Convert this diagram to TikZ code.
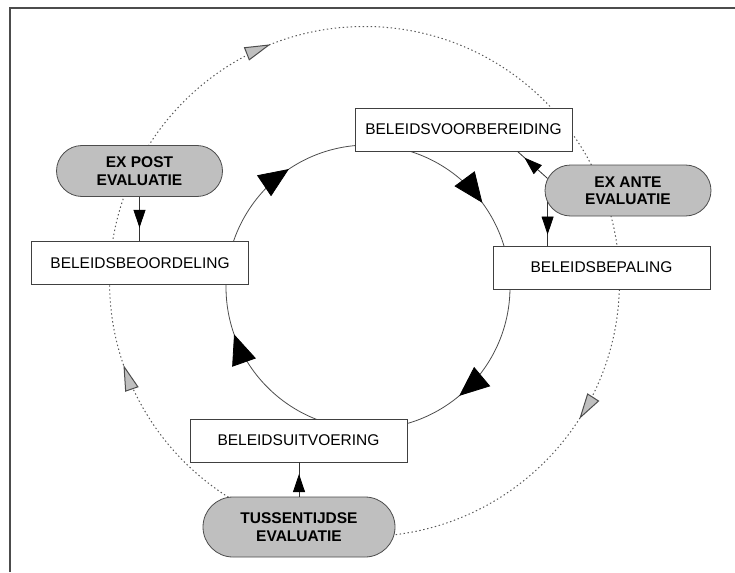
\documentclass[tikz,border=0pt]{standalone}
\usepackage{fontspec}
\setmainfont{Liberation Sans}
\usetikzlibrary{arrows.meta,decorations.markings,calc,shapes.misc}

\begin{document}
\begin{tikzpicture}[x=1pt, y=-1pt,
stage/.style = {draw=black!75, fill=white, line width=0.8pt, minimum width=217pt, minimum height=43pt, inner sep=0pt, font=\fontsize{15.5}{17.5}\selectfont},
eval/.style = {draw=black!70, fill=black!25, line width=0.8pt, rounded rectangle, minimum width=166pt, minimum height=51pt, inner sep=0pt, align=center, font=\bfseries\fontsize{15.5}{17.5}\selectfont},
ring/.style = {black!70, line width=0.8pt, postaction={decorate}, decoration={markings,
  mark=at position 0.139 with {\arrow{Triangle[length=30pt,width=25pt,color=black]}},
  mark=at position 0.446 with {\arrow{Triangle[length=30pt,width=25pt,color=black]}},
  mark=at position 0.656 with {\arrow{Triangle[length=30pt,width=25pt,color=black]}},
  mark=at position 0.899 with {\arrow{Triangle[length=30pt,width=25pt,color=black]}}}},
feedback/.style = {black!65, line width=1pt, dash pattern=on 1.4pt off 2.6pt, postaction={decorate}, decoration={markings,
  mark=at position 0.0906 with {\arrow{Triangle[length=26pt,width=14pt,color=black!70,fill=black!25]}},
  mark=at position 0.447 with {\arrow{Triangle[length=26pt,width=14pt,color=black!70,fill=black!25]}},
  mark=at position 0.690 with {\arrow{Triangle[length=26pt,width=14pt,color=black!70,fill=black!25]}}}},
link/.style = {black!80, line width=0.8pt, postaction={decorate}, decoration={markings,
  mark=at position #1 with {\arrow{Triangle[length=18pt,width=12pt,color=black]}}}},
link/.default = 0.7]
\useasboundingbox (0,0) rectangle (735,572);
\draw[line width=2.2pt, black!70] (10,572) -- (10,8) -- (735,8);

\coordinate (hub) at (368,287);
\coordinate (rim) at (364.5,281.5);
\draw[feedback] ($(rim)+(255,0)$) arc[start angle=0, end angle=360, radius=255];
\draw[ring] ($(hub)+(142,0)$) arc[start angle=0, end angle=360, radius=142];

\node[stage] (vb) at (463.5,129.5) {BELEIDSVOORBEREIDING};
\node[stage] (bp) at (601.5,267.5) {BELEIDSBEPALING};
\node[stage] (uv) at (298.5,440.5) {BELEIDSUITVOERING};
\node[stage] (bo) at (140,263) {BELEIDSBEOORDELING};
\node[eval] (ea) at (628,190.5) {EX ANTE\\EVALUATIE};
\node[eval] (ep) at (139.5,171) {EX POST\\EVALUATIE};
\node[eval, minimum width=192pt, minimum height=60pt] (te) at (299,527) {TUSSENTIJDSE\\EVALUATIE};

\coordinate (ea-low) at ($(ea.west)+(3,11)$);
\coordinate (ea-high) at ($(ea.west)+(3,-12)$);
\coordinate (vb-foot) at ($(vb.south)+(54,0)$);

\draw[link] (ep.south) -- (ep.south |- bo.north);
\draw[link=0.66] (te.north) -- (te.north |- uv.south);
\draw[link=0.75] (ea-low) -- (ea-low |- bp.north);
\draw[link=0.77] (ea-high) -- (vb-foot);
\end{tikzpicture}
\end{document}
